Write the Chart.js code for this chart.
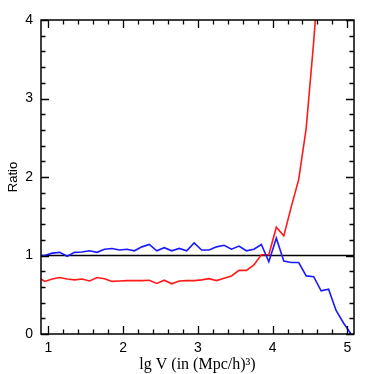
<!DOCTYPE html>
<html>
<head>
<meta charset="utf-8">
<script src="https://cdn.jsdelivr.net/npm/chart.js@4.4.1/dist/chart.umd.min.js"></script>
<style>
html,body{margin:0;padding:0;background:#fff;}
#wrap{width:374px;height:374px;position:relative;}
</style>
</head>
<body>
<div id="wrap"><canvas id="c" width="374" height="374"></canvas></div>
<script>
// lg V bin centres
const lgV = [0.85,0.95,1.05,1.15,1.25,1.35,1.45,1.55,1.65,1.75,1.85,1.95,2.05,2.15,2.25,2.35,2.45,2.55,2.65,2.75,2.85,2.95,3.05,3.15,3.25,3.35,3.45,3.55,3.65,3.75,3.85,3.95,4.05,4.15,4.25,4.35,4.45,4.55,4.65,4.75,4.85,4.95,5.05];
const blueRatio = [1.00,1.00,1.03,1.04,0.99,1.04,1.045,1.06,1.04,1.08,1.09,1.07,1.08,1.06,1.11,1.14,1.06,1.10,1.06,1.09,1.06,1.16,1.07,1.07,1.11,1.13,1.08,1.12,1.06,1.08,1.14,0.92,1.22,0.93,0.91,0.91,0.74,0.73,0.55,0.57,0.30,0.14,0.00];
const redRatio = [0.73,0.67,0.70,0.72,0.70,0.69,0.70,0.675,0.72,0.705,0.67,0.675,0.68,0.68,0.68,0.685,0.645,0.685,0.64,0.675,0.68,0.68,0.69,0.705,0.68,0.71,0.74,0.81,0.81,0.88,1.01,1.01,1.36,1.25,1.62,1.97,2.62,3.72,5.0,7.0,null,null,null];
const refLevel = 1;
const xRange = [0.9, 5.09];
const yRange = [0, 4];
const xTickLabels = [1,2,3,4,5];
const yTickLabels = [0,1,2,3,4];
const minorStep = 0.2;

const pts = (ys) => lgV.map((x,i)=>({x:x, y:ys[i]}));

const frameTicks = {
  id:'frameTicks',
  afterDatasetsDraw(chart){
    const {ctx, chartArea:a, scales:{x, y}} = chart;
    ctx.save();
    ctx.strokeStyle = '#000';
    ctx.lineWidth = 1.5;
    ctx.strokeRect(a.left, a.top, a.right-a.left, a.bottom-a.top);
    ctx.lineWidth = 1.3;
    ctx.beginPath();
    const isMajor = v => Math.abs(v-Math.round(v))<1e-6;
    for(let k=Math.ceil(xRange[0]/minorStep); k*minorStep<=xRange[1]+1e-9; k++){
      const v = k*minorStep; const px = Math.round(x.getPixelForValue(v))+0.5;
      const L = isMajor(v)?8:4.5;
      ctx.moveTo(px, a.bottom); ctx.lineTo(px, a.bottom-L);
      ctx.moveTo(px, a.top); ctx.lineTo(px, a.top+L);
    }
    for(let k=Math.ceil(yRange[0]/minorStep); k*minorStep<=yRange[1]+1e-9; k++){
      const v = k*minorStep; const py = Math.round(y.getPixelForValue(v))+0.5;
      const L = isMajor(v)?8:4.5;
      ctx.moveTo(a.left, py); ctx.lineTo(a.left+L, py);
      ctx.moveTo(a.right, py); ctx.lineTo(a.right-L, py);
    }
    ctx.stroke();
    ctx.restore();
  }
};

new Chart(document.getElementById('c'), {
  type:'line',
  data:{
    datasets:[
      {label:'blue', data:pts(blueRatio), borderColor:'#1a1aff', borderWidth:1.6, pointRadius:0, tension:0, fill:false},
      {label:'red', data:pts(redRatio), borderColor:'#ff1a1a', borderWidth:1.6, pointRadius:0, tension:0, fill:false, spanGaps:false},
      {label:'ref', data:[{x:xRange[0],y:refLevel},{x:xRange[1],y:refLevel}], borderColor:'#000', borderWidth:1.5, pointRadius:0, fill:false}
    ]
  },
  options:{
    responsive:false, animation:false,
    layout:{padding:{top:20,right:20,left:0,bottom:0}},
    plugins:{legend:{display:false}, tooltip:{enabled:false}},
    scales:{
      x:{type:'linear', min:xRange[0], max:xRange[1],
        grid:{display:false, drawTicks:false}, border:{display:false},
        afterBuildTicks:s=>{s.ticks = xTickLabels.map(v=>({value:v}));},
        afterFit:s=>{s.height = 40;},
        ticks:{color:'#000', padding:6, maxRotation:0, autoSkip:false, font:{family:'Liberation Sans', size:14}, callback:v=>String(v)},
        title:{display:true, text:'lg V (in (Mpc/h)³)', color:'#000', font:{family:'Liberation Serif', size:16}, padding:{top:0,bottom:0}}
      },
      y:{type:'linear', min:yRange[0], max:yRange[1],
        grid:{display:false, drawTicks:false}, border:{display:false},
        afterBuildTicks:s=>{s.ticks = yTickLabels.map(v=>({value:v}));},
        afterFit:s=>{s.width = 41;},
        ticks:{color:'#000', padding:8, autoSkip:false, font:{family:'Liberation Sans', size:14}, callback:v=>String(v)},
        title:{display:true, text:'Ratio', color:'#000', font:{family:'Liberation Sans', size:13}, padding:{top:6,bottom:0}}
      }
    }
  },
  plugins:[frameTicks]
});
</script>
</body>
</html>
